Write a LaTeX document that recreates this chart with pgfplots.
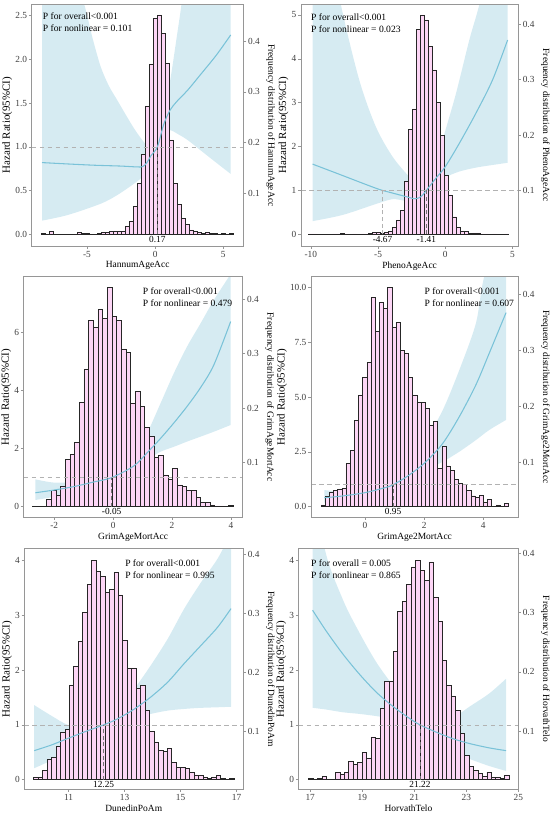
\documentclass[border=0pt]{standalone}
\usepackage{fontspec}
\setmainfont{Liberation Serif}
\usepackage{pgfplots}
\pgfplotsset{compat=1.18}
\usepgfplotslibrary{fillbetween}
\definecolor{barpink}{RGB}{253,214,246}
\definecolor{bandblue}{RGB}{173,216,230}
\definecolor{curveblue}{RGB}{122,194,216}
\definecolor{framegray}{RGB}{150,150,150}
\tikzset{
  reflab/.style={anchor=north, inner sep=1pt, font=\fontsize{7}{8}\selectfont},
  ann/.style={anchor=north west, inner sep=0pt, align=left, font=\fontsize{7.2}{9}\selectfont},
}
\pgfplotsset{
  base/.style={scale only axis, anchor=south west, tick align=outside, major tick length=2pt, minor tick num=0,
    clip bounding box=upper bound,
    tick style={color=framegray, line width=0.4pt},
    axis line style={color=framegray, line width=0.5pt},
    ticklabel style={font=\fontsize{7}{8}\selectfont, color=black!75},
    /pgf/number format/assume math mode=true,
    xticklabel style={inner sep=1.5pt},
    yticklabel style={inner sep=1.2pt},
  },
  mainax/.style={base, xtick pos=left, ytick pos=left,
     ylabel={Hazard Ratio(95\%CI)},
     xlabel style={font=\fontsize{7.1}{8}\selectfont, inner sep=1.5pt},
     ylabel style={font=\fontsize{8.2}{9}\selectfont, inner sep=1pt},
  },
  secax/.style={base, xtick=\empty, ytick pos=right, yticklabel pos=right, ytick={0.1,0.2,0.3,0.4},
     yticklabel style={/pgf/number format/.cd, fixed, fixed zerofill, precision=1},
     ylabel style={rotate=180, font=\fontsize{7.1}{8}\selectfont, inner sep=3.5pt},
  },
  hist/.style={ybar interval, fill=barpink, draw=black!85, line width=0.35pt},
  band/.style={fill=bandblue, fill opacity=0.5, draw=none},
  est/.style={color=curveblue, line width=0.8pt, smooth, mark=none},
  bnd/.style={draw=none, smooth, mark=none},
  hrone/.style={color=black!30, dash pattern=on 3.5pt off 2.5pt, line width=0.5pt},
  refv/.style={color=black!55, dash pattern=on 3pt off 2pt, line width=0.5pt},
  refvl/.style={color=black!30, dash pattern=on 3pt off 2pt, line width=0.5pt},
  onedec/.style={yticklabel style={/pgf/number format/.cd, fixed, fixed zerofill, precision=1}},
}
\begin{document}
\begin{tikzpicture}
\path (0,0) rectangle (412.5pt,612.75pt);

% ===================== Panel 1: HannumAgeAcc =====================
\begin{axis}[mainax, onedec, at={(23.03pt,428.25pt)}, width=159pt, height=180.98pt,
  xmin=-9.06, xmax=6.50, ymin=-0.134, ymax=2.626,
  xtick={-5,0,5}, ytick={0,0.5,1,1.5,2,2.5}, xlabel={HannumAgeAcc}]
\addplot[hist] coordinates {(-8.327,0.01) (-8.034,0) (-7.740,0.03) (-7.447,0) (-7.153,0) (-6.860,0) (-6.566,0) (-6.273,0) (-5.979,0) (-5.686,0.02) (-5.392,0.01) (-5.099,0.01) (-4.805,0) (-4.512,0) (-4.218,0.01) (-3.925,0.02) (-3.631,0.02) (-3.338,0.03) (-3.044,0.04) (-2.751,0.04) (-2.457,0.04) (-2.164,0.09) (-1.870,0.145) (-1.577,0.32) (-1.283,0.58) (-0.990,0.91) (-0.696,1.46) (-0.403,1.95) (-0.109,2.47) (0.185,2.51) (0.478,2.30) (0.772,1.96) (1.065,1.08) (1.359,0.58) (1.652,0.34) (1.946,0.18) (2.239,0.11) (2.533,0.05) (2.826,0.03) (3.120,0.02) (3.413,0.01) (3.707,0.02) (4.000,0.01) (4.294,0.01) (4.587,0) (4.881,0.01) (5.174,0) (5.468,0.01) (5.761,0)};
\addplot[bnd, name path=U1] coordinates {(-8.3,4.5) (-7,3.6) (-6,3.0) (-5.2,2.63) (-4.6,2.25) (-4.0,1.92) (-3.4,1.70) (-2.8,1.54) (-2.2,1.38) (-1.5,1.2) (-0.8,1.05) (-0.3,0.98) (0.17,1.0) (0.4,1.2) (0.78,1.5) (1.15,1.8) (1.63,2.3) (1.95,2.65) (2.6,3.5) (3.5,4.2) (5.55,5.0)};
\addplot[bnd, name path=L1] coordinates {(-8.3,0.156) (-6.42,0.22) (-3.98,0.35) (-2.76,0.45) (-1.54,0.58) (-0.8,0.68) (-0.2,0.88) (0.17,1.0) (0.41,1.08) (0.78,1.17) (1.15,1.19) (1.63,1.15) (2.37,1.08) (3.34,0.96) (4.56,0.81) (5.55,0.69)};
\addplot[band] fill between[of=U1 and L1];
\addplot[est] coordinates {(-8.30,0.82) (-6.5,0.805) (-4.5,0.79) (-2.5,0.78) (-1.3,0.77) (-0.9,0.775) (-0.6,0.82) (-0.3,0.9) (0.17,1.0) (0.64,1.26) (1.1,1.42) (1.6,1.52) (2.4,1.65) (3.3,1.82) (4.5,2.05) (5.55,2.28)};
\addplot[hrone] coordinates {(-9.06,1) (6.50,1)};
\addplot[refv] coordinates {(0.17,0) (0.17,1)};
\node[reflab] at (axis cs:0.17,0) {0.17};
\node[ann] at (rel axis cs:0.052,0.969) {P for overall<0.001\\P for nonlinear = 0.101};
\end{axis}
\begin{axis}[secax, at={(23.03pt,428.25pt)}, width=159pt, height=180.98pt,
  xmin=-9.06, xmax=6.50, ymin=-0.004, ymax=0.472, ylabel={Frequency distribution of HannumAgeAcc}]
\addplot[draw=none] coordinates {(0,0.1)};
\end{axis}

% ===================== Panel 2: PhenoAgeAcc =====================
\begin{axis}[mainax, at={(225pt,428.25pt)}, width=162.98pt, height=180.98pt,
  xmin=-10.736, xmax=5.431, ymin=-0.267, ymax=5.235,
  xtick={-10,-5,0,5}, ytick={0,1,2,3,4,5}, xlabel={PhenoAgeAcc}]
\addplot[hist] coordinates {(-10.163,0.01) (-9.866,0.01) (-9.568,0) (-9.271,0) (-8.973,0) (-8.676,0) (-8.378,0.01) (-8.081,0.01) (-7.783,0.02) (-7.486,0.01) (-7.188,0) (-6.891,0.01) (-6.593,0) (-6.296,0.01) (-5.998,0.01) (-5.701,0.02) (-5.403,0.04) (-5.106,0.05) (-4.808,0.03) (-4.511,0.05) (-4.213,0.08) (-3.916,0.15) (-3.618,0.33) (-3.321,0.55) (-3.023,1.22) (-2.726,2.40) (-2.428,2.86) (-2.131,4.68) (-1.833,5.00) (-1.536,4.89) (-1.238,4.28) (-0.941,3.75) (-0.643,3.00) (-0.346,2.26) (-0.048,1.34) (0.249,0.90) (0.547,0.40) (0.844,0.17) (1.142,0.08) (1.439,0.06) (1.737,0.02) (2.034,0.03) (2.332,0.03) (2.629,0.01) (2.927,0.01) (3.224,0) (3.522,0.01) (3.819,0) (4.117,0) (4.414,0.01) (4.712,0)};
\addplot[bnd, name path=U2] coordinates {(-9.87,9) (-8.8,7) (-7.76,5.23) (-6.4,3.52) (-5.16,2.45) (-3.92,1.77) (-2.68,1.31) (-1.93,1.10) (-1.41,1.0) (-1.0,1.3) (-0.6,1.7) (-0.2,2.15) (0.79,3.2) (1.79,4.43) (2.53,5.23) (3.5,6.5) (4.64,8)};
\addplot[bnd, name path=L2] coordinates {(-9.87,0.30) (-7.64,0.44) (-5.16,0.69) (-3.92,0.80) (-2.93,0.76) (-2.23,0.74) (-1.8,0.82) (-1.41,1.0) (-0.69,1.18) (0,1.30) (1.04,1.43) (2.28,1.52) (3.52,1.58) (4.64,1.63)};
\addplot[band] fill between[of=U2 and L2];
\addplot[est] coordinates {(-9.87,1.60) (-7.64,1.34) (-6.2,1.17) (-5.16,1.05) (-4.67,1.0) (-3.92,0.94) (-2.93,0.86) (-2.23,0.81) (-1.8,0.86) (-1.41,1.0) (-0.69,1.28) (0,1.54) (1.04,2.07) (2.28,2.76) (3.52,3.52) (4.64,4.43)};
\addplot[hrone] coordinates {(-10.736,1) (5.431,1)};
\addplot[refvl] coordinates {(-4.67,0) (-4.67,1)};
\addplot[refv] coordinates {(-1.41,0) (-1.41,1)};
\node[reflab] at (axis cs:-4.67,0) {-4.67};
\node[reflab] at (axis cs:-1.41,0) {-1.41};
\node[ann] at (rel axis cs:0.046,0.964) {P for overall<0.001\\P for nonlinear = 0.023};
\end{axis}
\begin{axis}[secax, at={(225pt,428.25pt)}, width=162.98pt, height=180.98pt,
  xmin=-10.736, xmax=5.431, ymin=0.0003, ymax=0.435, ylabel={Frequency distribution of PhenoAgeAcc}]
\addplot[draw=none] coordinates {(0,0.1)};
\end{axis}

% ===================== Panel 3: GrimAgeMortAcc =====================
\begin{axis}[mainax, at={(17.03pt,224.78pt)}, width=164.25pt, height=180.45pt,
  xmin=-3.039, xmax=4.397, ymin=-0.365, ymax=7.913,
  xtick={-2,0,2,4}, ytick={0,2,4,6}, xlabel={GrimAgeMortAcc}]
\addplot[hist] coordinates {(-2.740,0.02) (-2.581,0.02) (-2.423,0) (-2.264,0.25) (-2.106,0.57) (-1.947,0.40) (-1.789,0.71) (-1.630,1.63) (-1.472,1.81) (-1.313,2.21) (-1.155,3.58) (-0.996,4.74) (-0.838,6.40) (-0.679,6.17) (-0.521,6.79) (-0.362,6.48) (-0.204,7.55) (-0.045,6.56) (0.114,6.42) (0.272,5.43) (0.431,5.31) (0.589,3.56) (0.748,3.96) (0.906,3.46) (1.065,2.73) (1.223,2.44) (1.382,1.70) (1.540,1.78) (1.699,1.09) (1.857,0.95) (2.016,1.32) (2.174,0.75) (2.333,0.69) (2.491,0.55) (2.650,0.57) (2.808,0.31) (2.967,0.15) (3.125,0.15) (3.284,0.06) (3.442,0.03) (3.601,0.03) (3.759,0.02) (3.918,0.05) (4.076,0)};
\addplot[bnd, name path=U3] coordinates {(-2.64,0.94) (-2.02,0.83) (-1.34,0.85) (-0.66,0.94) (-0.05,1.0) (0.70,1.72) (1.15,2.52) (1.61,3.56) (2.06,4.59) (2.51,5.51) (2.97,6.31) (3.42,7.11) (3.99,8.0)};
\addplot[bnd, name path=L3] coordinates {(-2.64,0.23) (-2.02,0.34) (-1.34,0.52) (-0.66,0.75) (-0.05,1.0) (0.70,1.24) (1.15,1.60) (1.61,1.89) (2.06,2.06) (2.51,2.24) (2.97,2.41) (3.42,2.58) (3.99,2.81)};
\addplot[band] fill between[of=U3 and L3];
\addplot[est] coordinates {(-2.64,0.48) (-2.02,0.57) (-1.34,0.69) (-0.66,0.85) (-0.05,1.0) (0.70,1.40) (1.15,1.85) (1.61,2.35) (2.06,2.88) (2.51,3.45) (2.97,4.10) (3.42,4.88) (3.99,6.37)};
\addplot[hrone] coordinates {(-3.039,1) (4.397,1)};
\addplot[refv] coordinates {(-0.05,0) (-0.05,1)};
\node[reflab] at (axis cs:-0.05,0) {-0.05};
\node[ann] at (rel axis cs:0.543,0.956) {P for overall<0.001\\P for nonlinear = 0.479};
\end{axis}
\begin{axis}[secax, at={(17.03pt,224.78pt)}, width=164.25pt, height=180.45pt,
  xmin=-3.039, xmax=4.397, ymin=-0.0002, ymax=0.4415, ylabel={Frequency distribution of GrimAgeMortAcc}]
\addplot[draw=none] coordinates {(0,0.1)};
\end{axis}

% ===================== Panel 4: GrimAge2MortAcc =====================
\begin{axis}[mainax, onedec, at={(232.5pt,224.78pt)}, width=155.48pt, height=180.45pt,
  xmin=-1.826, xmax=5.183, ymin=-0.484, ymax=10.502,
  xtick={0,2,4}, ytick={0,2.5,5,7.5,10}, xlabel={GrimAge2MortAcc}]
\addplot[hist] coordinates {(-1.487,0.08) (-1.346,0.46) (-1.205,0.64) (-1.065,0.76) (-0.924,0.81) (-0.783,0.84) (-0.642,1.98) (-0.501,2.56) (-0.361,3.93) (-0.220,5.10) (-0.079,5.91) (0.062,6.59) (0.203,9.56) (0.343,8.02) (0.484,9.33) (0.625,9.06) (0.766,10.02) (0.907,8.19) (1.047,8.40) (1.188,7.15) (1.329,7.00) (1.470,5.91) (1.611,5.10) (1.751,4.79) (1.892,4.76) (2.033,4.49) (2.174,3.73) (2.315,3.88) (2.455,1.75) (2.596,2.74) (2.737,1.87) (2.878,1.67) (3.019,1.25) (3.159,1.07) (3.300,1.02) (3.441,0.76) (3.582,0.50) (3.723,0.43) (3.863,0.53) (4.004,0.20) (4.145,0.33) (4.286,0) (4.427,0.08) (4.567,0) (4.708,0.15) (4.849,0)};
\addplot[bnd, name path=U4] coordinates {(-1.37,0.76) (-0.75,0.68) (0,0.73) (0.60,0.90) (0.95,1.0) (1.50,1.83) (2.06,3.04) (2.63,4.41) (3.19,6.24) (3.75,8.37) (4.03,10.5) (4.77,14)};
\addplot[bnd, name path=L4] coordinates {(-1.37,0.18) (-0.75,0.30) (0,0.53) (0.60,0.78) (0.95,1.0) (1.50,1.20) (2.06,1.67) (2.63,2.05) (3.19,2.51) (3.75,3.04) (4.20,3.5) (4.77,3.96)};
\addplot[band] fill between[of=U4 and L4];
\addplot[est] coordinates {(-1.37,0.41) (-0.75,0.49) (0,0.64) (0.60,0.84) (0.95,1.0) (1.50,1.45) (2.06,2.05) (2.63,2.89) (3.19,4.11) (3.75,5.56) (4.20,7.0) (4.77,8.86)};
\addplot[hrone] coordinates {(-1.826,1) (5.183,1)};
\addplot[refv] coordinates {(0.95,0) (0.95,1)};
\node[reflab] at (axis cs:0.95,0) {0.95};
\node[ann] at (rel axis cs:0.547,0.956) {P for overall<0.001\\P for nonlinear = 0.607};
\end{axis}
\begin{axis}[secax, at={(232.5pt,224.78pt)}, width=155.48pt, height=180.45pt,
  xmin=-1.826, xmax=5.183, ymin=0.0027, ymax=0.4314, ylabel={Frequency distribution of GrimAge2MortAcc}]
\addplot[draw=none] coordinates {(0,0.1)};
\end{axis}

% ===================== Panel 5: DunedinPoAm =====================
\begin{axis}[mainax, at={(17.48pt,20.78pt)}, width=164.25pt, height=180.45pt,
  xmin=9.414, xmax=17.236, ymin=-0.175, ymax=4.2115,
  xtick={11,13,15,17}, ytick={0,1,2,3,4}, xlabel={DunedinPoAm}]
\addplot[hist] coordinates {(9.750,0.05) (9.909,0.05) (10.068,0.17) (10.227,0.38) (10.386,0.41) (10.545,0.61) (10.704,0.87) (10.863,0.92) (11.022,1.73) (11.181,2.07) (11.340,2.52) (11.499,3.05) (11.658,3.56) (11.817,4.00) (11.976,3.80) (12.135,3.71) (12.294,3.41) (12.453,3.47) (12.612,3.78) (12.771,3.37) (12.930,2.54) (13.089,2.04) (13.248,2.04) (13.407,1.66) (13.566,1.72) (13.725,1.26) (13.884,0.88) (14.043,0.69) (14.202,0.53) (14.361,0.52) (14.520,0.57) (14.679,0.31) (14.838,0.23) (14.997,0.23) (15.156,0.20) (15.315,0.14) (15.474,0.09) (15.633,0.08) (15.792,0.05) (15.951,0.03) (16.110,0.05) (16.269,0.08) (16.428,0.02) (16.587,0.01) (16.746,0.02) (16.905,0)};
\addplot[bnd, name path=U5] coordinates {(9.77,1.36) (10.37,1.17) (10.96,1.0) (11.56,0.93) (12.25,1.0) (12.75,1.29) (13.35,1.66) (13.94,2.09) (14.54,2.57) (15.13,3.12) (15.73,3.60) (16.32,4.03) (16.80,4.5)};
\addplot[bnd, name path=L5] coordinates {(9.77,0.21) (10.37,0.35) (10.96,0.53) (11.56,0.75) (12.25,1.0) (12.75,1.05) (13.35,1.12) (13.94,1.20) (14.54,1.26) (15.13,1.29) (15.73,1.31) (16.32,1.32) (16.80,1.33)};
\addplot[band] fill between[of=U5 and L5];
\addplot[est] coordinates {(9.77,0.53) (10.37,0.63) (10.96,0.75) (11.56,0.87) (12.25,1.0) (12.75,1.11) (13.35,1.29) (13.94,1.51) (14.54,1.78) (15.13,2.12) (15.73,2.45) (16.32,2.78) (16.80,3.12)};
\addplot[hrone] coordinates {(9.414,1) (17.236,1)};
\addplot[refv] coordinates {(12.25,0) (12.25,1)};
\node[reflab] at (axis cs:12.25,0) {12.25};
\node[ann] at (rel axis cs:0.46,0.956) {P for overall<0.001\\P for nonlinear = 0.995};
\end{axis}
\begin{axis}[secax, at={(17.48pt,20.78pt)}, width=164.25pt, height=180.45pt,
  xmin=9.414, xmax=17.236, ymin=0.0017, ymax=0.4095, ylabel={Frequency distribution of DunedinPoAm}]
\addplot[draw=none] coordinates {(12,0.1)};
\end{axis}

% ===================== Panel 6: HorvathTelo =====================
\begin{axis}[mainax, at={(223.28pt,20.78pt)}, width=164.7pt, height=180.45pt,
  xmin=16.554, xmax=25.0, ymin=-0.175, ymax=4.2115,
  xtick={17,19,21,23,25}, ytick={0,1,2,3,4}, xlabel={HorvathTelo}]
\addplot[hist] coordinates {(16.936,0.02) (17.107,0.01) (17.279,0.02) (17.450,0.06) (17.621,0) (17.793,0) (17.964,0.13) (18.135,0.10) (18.306,0.14) (18.478,0.34) (18.649,0.28) (18.820,0.32) (18.992,0.50) (19.163,0.40) (19.334,0.78) (19.506,0.75) (19.677,1.31) (19.848,1.79) (20.019,1.79) (20.191,2.34) (20.362,3.07) (20.533,3.25) (20.705,3.56) (20.876,3.88) (21.047,4.00) (21.219,3.82) (21.390,3.64) (21.561,3.97) (21.732,3.33) (21.904,2.88) (22.075,2.18) (22.246,1.72) (22.418,1.53) (22.589,1.26) (22.760,0.84) (22.932,0.44) (23.103,0.25) (23.274,0.17) (23.445,0.11) (23.617,0.06) (23.788,0.14) (23.959,0.05) (24.131,0.05) (24.302,0.03) (24.473,0.09) (24.645,0)};
\addplot[bnd, name path=U6] coordinates {(17.09,6.0) (17.54,4.25) (18.24,3.30) (18.88,2.69) (19.53,2.15) (20.17,1.72) (20.81,1.29) (21.22,1.0) (21.83,1.02) (22.47,1.12) (23.12,1.33) (23.88,1.57) (24.53,1.84)};
\addplot[bnd, name path=L6] coordinates {(17.09,1.31) (17.60,1.28) (18.24,1.23) (18.88,1.20) (19.53,1.16) (20.17,1.11) (20.81,1.05) (21.22,1.0) (21.83,0.72) (22.47,0.52) (23.12,0.38) (23.88,0.25) (24.53,0.16)};
\addplot[band] fill between[of=U6 and L6];
\addplot[est] coordinates {(17.09,3.09) (17.60,2.72) (18.24,2.30) (18.88,1.93) (19.53,1.60) (20.17,1.34) (20.81,1.12) (21.22,1.0) (21.83,0.87) (22.47,0.75) (23.12,0.66) (23.88,0.58) (24.53,0.53)};
\addplot[hrone] coordinates {(16.554,1) (25.0,1)};
\addplot[refv] coordinates {(21.22,0) (21.22,1)};
\node[reflab] at (axis cs:21.22,0) {21.22};
\node[ann] at (rel axis cs:0.056,0.956) {P for overall = 0.005\\P for nonlinear = 0.865};
\end{axis}
\begin{axis}[secax, at={(223.28pt,20.78pt)}, width=164.7pt, height=180.45pt,
  xmin=16.554, xmax=25.0, ymin=0.0024, ymax=0.4072, ylabel={Frequency distribution of HorvathTelo}]
\addplot[draw=none] coordinates {(20,0.1)};
\end{axis}
\end{tikzpicture}
\end{document}
